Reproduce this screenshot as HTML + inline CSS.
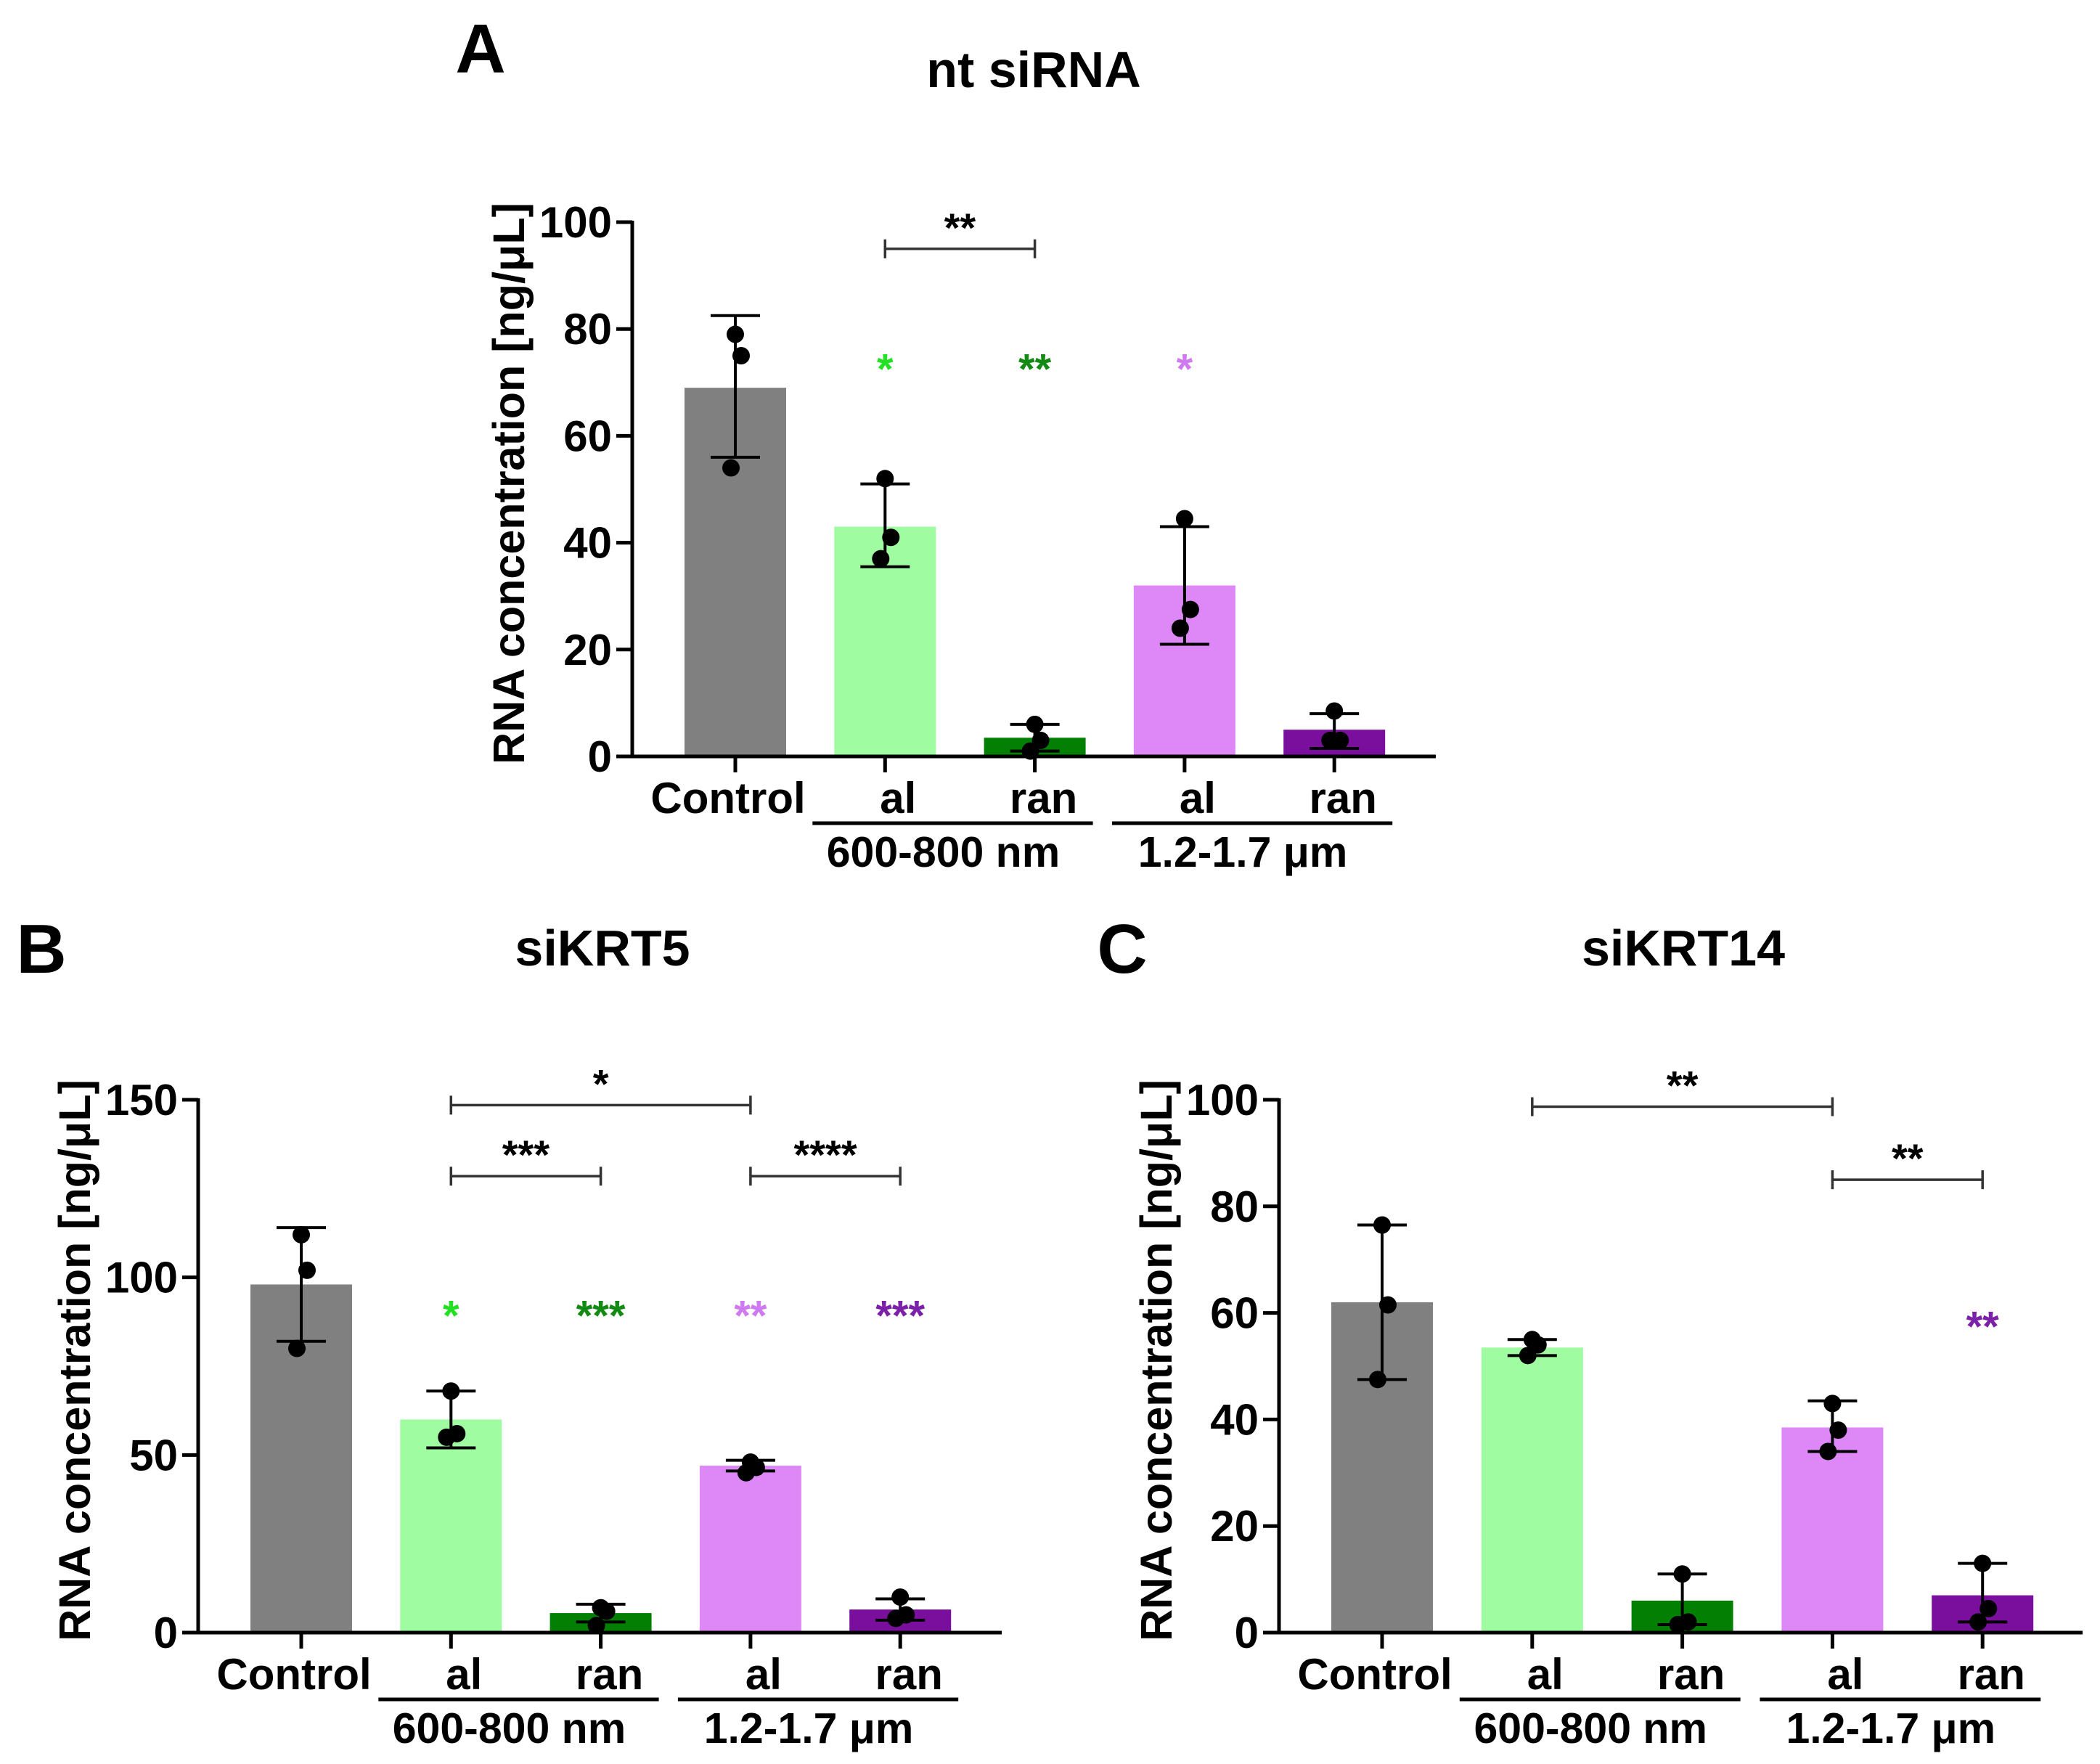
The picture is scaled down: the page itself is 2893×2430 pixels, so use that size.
<!DOCTYPE html>
<html><head><meta charset="utf-8"><style>
body{margin:0;background:#fff}
svg{display:block;font-family:"Liberation Sans",Arial,sans-serif;font-weight:bold}
</style></head><body>
<svg id="fig" width="2893" height="2430" viewBox="0 0 2893 2430" xmlns="http://www.w3.org/2000/svg"></svg>
<script>
const categories = ["Control","al","ran","al","ran"];
const groupLabels = ["600-800 nm","1.2-1.7 μm"];
const barColors = ["#808080","#a0fca0","#038003","#dd88f6","#7a0f9e"];
const starColors = ["#000","#22e022","#138a13","#cf7af0","#7b20a8"];

const meansA = [69,43,3.5,32,5];
const errLoA = [56,35.5,1,21,1.5];
const errHiA = [82.5,51,6,43,8];
const ptsA = [[79,75,54],[52,41,37],[6,3,1],[44.5,27.5,24],[8.5,3,3]];
const starsA = ["","*","**","*",""];
const starValA = 73;
const bracketsA = [[1,2,95,"**"]];
const ticksA = [0,20,40,60,80,100];

const meansB = [98,60,5.5,47,6.5];
const errLoB = [82,52,3,45.5,3.5];
const errHiB = [114,68,8,48.5,9.5];
const ptsB = [[112,102,80],[68,56,55],[7,6,2],[48,46.5,45],[10,5,4]];
const starsB = ["","*","***","**","***"];
const starValB = 90;
const bracketsB = [[1,3,148.5,"*"],[1,2,128.5,"***"],[3,4,128.5,"****"]];
const ticksB = [0,50,100,150];

const meansC = [62,53.5,6,38.5,7];
const errLoC = [47.5,52,1.5,34,2];
const errHiC = [76.5,55,11,43.5,13];
const ptsC = [[76.5,61.5,47.5],[55,54,52],[11,2,1.5],[43,38,34],[13,4.5,2]];
const starsC = ["","","","","**"];
const starValC = 58;
const bracketsC = [[1,3,98.7,"**"],[3,4,85,"**"]];
const ticksC = [0,20,40,60,80,100];

const NS="http://www.w3.org/2000/svg";
const svg=document.getElementById('fig');
function el(tag,attrs,parent,text){const e=document.createElementNS(NS,tag);for(const k in attrs)e.setAttribute(k,attrs[k]);if(text!==undefined)e.textContent=text;(parent||svg).appendChild(e);return e;}

function panel(cfg){
  const g=el('g',{});
  
  
  const y=v=>cfg.y0-(v/cfg.ymax)*(cfg.y0-cfg.yTop);
  const x=i=>cfg.cx0+i*cfg.step;
  const bw=140;
  const L=el('text',{x:cfg.letterX,y:cfg.letterY,'font-size':96,'text-anchor':'middle'},g,cfg.letter);
  
  const T=el('text',{x:cfg.titleX,y:cfg.titleY,'font-size':70,'text-anchor':'middle'},g,cfg.title);
  
  cfg.means.forEach((m,i)=>{
    const r=el('rect',{x:x(i)-bw/2,y:y(m),width:bw,height:cfg.y0-y(m),fill:barColors[i]},g);
    
    const eb=el('g',{stroke:'#000','stroke-width':4},g);
    
    el('line',{x1:x(i),x2:x(i),y1:y(cfg.lo[i]),y2:y(cfg.hi[i])},eb);
    el('line',{x1:x(i)-34,x2:x(i)+34,y1:y(cfg.lo[i]),y2:y(cfg.lo[i])},eb);
    el('line',{x1:x(i)-34,x2:x(i)+34,y1:y(cfg.hi[i]),y2:y(cfg.hi[i])},eb);
    cfg.pts[i].forEach((p,j)=>{
      const off=[0,8,-6][j];
      const c=el('circle',{cx:x(i)+off,cy:y(p),r:12,fill:'#000'},g);
      
    });
    if(cfg.stars[i]){
      const s=el('text',{x:x(i),y:y(cfg.starVal)+24,'font-size':58,'text-anchor':'middle',fill:starColors[i]},g,cfg.stars[i]);
      
    }
  });
  cfg.brackets.forEach(b=>{
    const bg=el('g',{},g);
    
    const yy=y(b[2]);
    el('path',{d:`M${x(b[0])},${yy-13}V${yy+13}M${x(b[0])},${yy}H${x(b[1])}M${x(b[1])},${yy-13}V${yy+13}`,stroke:'#333','stroke-width':3.5,fill:'none'},bg);
    el('text',{x:(x(b[0])+x(b[1]))/2,y:yy-10,'font-size':56,'text-anchor':'middle',fill:'#000'},bg,b[3]);
  });
  const ax=el('g',{stroke:'#000','stroke-width':5},g);
  
  el('line',{x1:cfg.ax,x2:cfg.ax,y1:cfg.yTop-2,y2:cfg.y0+2},ax);
  el('line',{x1:cfg.ax,x2:cfg.axEnd,y1:cfg.y0,y2:cfg.y0},ax);
  cfg.ticks.forEach(t=>{
    el('line',{x1:cfg.ax-22,x2:cfg.ax,y1:y(t),y2:y(t)},ax);
    const tl=el('text',{x:cfg.ax-28,y:y(t)+21,'font-size':60,'text-anchor':'end'},g,String(t));
    
  });
  categories.forEach((c,i)=>{
    el('line',{x1:x(i),x2:x(i),y1:cfg.y0,y2:cfg.y0+22},ax);
    const tl=el('text',{x:x(i)+(i==0?-10:(i%2?18:12)),y:cfg.y0+78,'font-size':60,'text-anchor':'middle'},g,c);
    
  });
  groupLabels.forEach((gl,k)=>{
    const a=x(1+2*k)-100,b=x(2+2*k)+80;
    const ln=el('line',{x1:a,x2:b,y1:cfg.y0+92,y2:cfg.y0+92,stroke:'#000','stroke-width':5},g);
    
    const t=el('text',{x:(a+b)/2-13,y:cfg.y0+152,'font-size':59,'text-anchor':'middle'},g,gl);
    
  });
  const yt=el('text',{x:0,y:0,'font-size':61,'text-anchor':'middle',transform:`translate(${cfg.ytX},${(cfg.y0+cfg.yTop)/2-8}) rotate(-90)`},g,'RNA concentration [ng/μL]');
  
}

panel({name:'panel-a',letter:'A',letterX:662,letterY:100,title:'nt siRNA',titleX:1424,titleY:120,
  ax:871,axEnd:1978,yTop:306,y0:1042,ymax:100,cx0:1013,step:206.3,ytX:722,
  means:meansA,lo:errLoA,hi:errHiA,pts:ptsA,stars:starsA,starVal:starValA,brackets:bracketsA,ticks:ticksA});
panel({name:'panel-b',letter:'B',letterX:57,letterY:1340,title:'siKRT5',titleX:830,titleY:1330,
  ax:273,axEnd:1380,yTop:1515,y0:2249,ymax:150,cx0:415,step:206.3,ytX:124,
  means:meansB,lo:errLoB,hi:errHiB,pts:ptsB,stars:starsB,starVal:starValB,brackets:bracketsB,ticks:ticksB});
panel({name:'panel-c',letter:'C',letterX:1546,letterY:1340,title:'siKRT14',titleX:2319,titleY:1330,
  ax:1762,axEnd:2869,yTop:1515,y0:2249,ymax:100,cx0:1904,step:206.8,ytX:1614,
  means:meansC,lo:errLoC,hi:errHiC,pts:ptsC,stars:starsC,starVal:starValC,brackets:bracketsC,ticks:ticksC});
</script>
</body></html>
